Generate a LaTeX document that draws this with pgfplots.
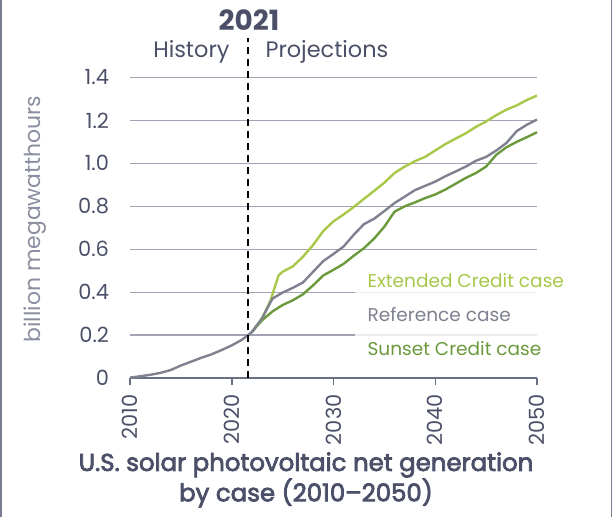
\documentclass[border=0pt]{standalone}
\usepackage{pgfplots}
\pgfplotsset{compat=1.18}
\usepackage{fontspec}
\setmainfont{Poppins}
\newfontfamily\medfont[FakeBold=3,Ligatures=TeX]{Poppins}
\definecolor{txt}{HTML}{4B5068}
\definecolor{ylab}{HTML}{8B8EA0}
\definecolor{grid}{HTML}{A2A4B3}
\definecolor{axisc}{HTML}{6B6F85}
\definecolor{ext}{HTML}{A8C84A}
\definecolor{ref}{HTML}{7F8191}
\definecolor{sun}{HTML}{6B9A3C}
\definecolor{border}{HTML}{7A7D90}

\pgfplotstableread{
year val
2010 0.002
2011 0.008
2012 0.015
2013 0.024
2014 0.037
2015 0.058
2016 0.076
2017 0.094
2018 0.110
2019 0.130
2020 0.152
2021 0.178
2022 0.215
2023 0.280
2024 0.370
2025 0.398
2026 0.420
2027 0.445
2028 0.495
2029 0.545
2030 0.578
2031 0.613
2032 0.668
2033 0.717
2034 0.742
2035 0.778
2036 0.815
2037 0.845
2038 0.875
2039 0.895
2040 0.915
2041 0.940
2042 0.962
2043 0.985
2044 1.012
2045 1.030
2046 1.060
2047 1.095
2048 1.150
2049 1.180
2050 1.204
}\refdata

\pgfplotstableread{
year val
2022 0.215
2023 0.280
2023.8 0.360
2024.6 0.478
2025 0.495
2026 0.520
2027 0.565
2028 0.620
2029 0.685
2030 0.730
2031 0.762
2032 0.797
2033 0.835
2034 0.872
2035 0.910
2036 0.955
2037 0.985
2038 1.010
2039 1.030
2040 1.060
2041 1.090
2042 1.115
2043 1.140
2044 1.170
2045 1.195
2046 1.225
2047 1.250
2048 1.270
2049 1.295
2050 1.316
}\extdata

\pgfplotstableread{
year val
2022 0.215
2022.4 0.238
2023 0.270
2024 0.310
2025 0.340
2026 0.362
2027 0.390
2028 0.432
2029 0.478
2030 0.504
2031 0.532
2032 0.570
2033 0.605
2034 0.650
2035 0.705
2036 0.775
2037 0.800
2038 0.818
2039 0.838
2040 0.855
2041 0.878
2042 0.905
2043 0.932
2044 0.955
2045 0.985
2046 1.040
2047 1.075
2048 1.100
2049 1.122
2050 1.145
}\sundata

\begin{document}
\begin{tikzpicture}[x=1bp,y=1bp]
\path[use as bounding box] (0,0) rectangle (613,517);
\draw[border, line width=1.5bp] (1,0) -- (1,517);
\draw[border, line width=1.5bp] (611.5,0) -- (611.5,517);
\begin{axis}[
  at={(130bp,139bp)}, anchor=south west,
  scale only axis, width=407bp, height=300.5bp,
  xmin=2010, xmax=2050, ymin=0, ymax=1.4,
  clip=false,
  axis lines=left,
  x axis line style={-, draw=axisc, line width=1.5bp},
  y axis line style={draw=none},
  xtick={2010,2020,2030,2040,2050},
  xticklabels={2010,2020,2030,2040,2050},
  ytick={0,0.2,0.4,0.6,0.8,1.0,1.2,1.4},
  yticklabels={0,0.2,0.4,0.6,0.8,1.0,1.2,1.4},
  xtick align=outside,
  major tick length=7bp,
  xtick style={draw=axisc, line width=1.5bp},
  ytick style={draw=none},
  ymajorgrids,
  grid style={draw=grid, line width=1.2bp},
  /pgf/number format/assume math mode=true,
  ticklabel style={font=\fontsize{21}{25}\selectfont, text=txt},
  xticklabel style={rotate=90, anchor=east, yshift=0bp, xshift=-6bp},
  yticklabel style={anchor=east, xshift=-14bp},
]
\fill[white, opacity=0.8] (axis cs:2032.1,0.13) rectangle (axis cs:2050,0.52);
\addplot[ext, line width=2.4bp] table[x=year,y=val] {\extdata};
\addplot[sun, line width=2.4bp] table[x=year,y=val] {\sundata};
\addplot[ref, line width=2.4bp] table[x=year,y=val] {\refdata};
\draw[black, dashed, line width=1.5bp, dash pattern=on 7bp off 5bp] (axis cs:2021.6,0) -- (axis cs:2021.6,1.585);
\end{axis}
\node[font=\fontsize{28}{32}\selectfont\bfseries, text=txt] at (249,497) {2021};
\node[font=\fontsize{22.5}{26}\selectfont, text=txt, anchor=east] at (233,465) {History};
\node[font=\fontsize{22.5}{26}\selectfont, text=txt, anchor=west] at (262,465) {Projections};
\node[font=\fontsize{22}{26}\selectfont, text=ylab, rotate=90] at (35,298) {billion megawatthours};
\node[font=\fontsize{18.6}{22}\selectfont, text=ext, anchor=base west] at (364,229) {Extended Credit case};
\node[font=\fontsize{18.6}{22}\selectfont, text=ref, anchor=base west] at (364,195) {Reference case};
\node[font=\fontsize{18.6}{22}\selectfont, text=sun, anchor=base west] at (364,161) {Sunset Credit case};
\node[font=\fontsize{24.5}{28.5}\selectfont\medfont, text=txt, align=center] at (306,37) {U.S. solar photovoltaic net generation\\by case (2010–2050)};
\end{tikzpicture}
\end{document}
